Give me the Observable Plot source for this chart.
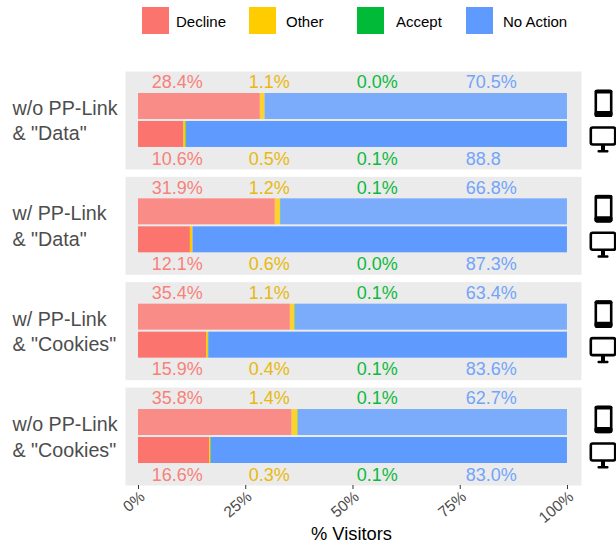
<!DOCTYPE html>
<html>
<head>
<meta charset="utf-8">
<script src="https://cdn.jsdelivr.net/npm/d3@7"></script>
<script src="https://cdn.jsdelivr.net/npm/@observablehq/plot@0.6"></script>
<style>
  html, body { margin: 0; padding: 0; background: #fff; font-family: "Liberation Sans", Arial, sans-serif; }
  #legend { position: relative; width: 616px; height: 50px; }
  .sw { position: absolute; top: 7px; width: 27px; height: 27px; }
  .lb { position: absolute; top: 13px; font-size: 15px; line-height: 18px; color: #000; white-space: nowrap; }
  svg { display: block; }
</style>
</head>
<body>
<div id="legend"></div>
<div id="chart"></div>
<script>
const configs = ['w/o PP-Link\n& "Data"', 'w/ PP-Link\n& "Data"', 'w/ PP-Link\n& "Cookies"', 'w/o PP-Link\n& "Cookies"'];
const devices = ["Mobile", "Desktop"];
const responses = ["Decline", "Other", "Accept", "No Action"];
const barColors = ["#fc746e", "#ffcc00", "#00ba38", "#5f9bff"];
const textColors = ["#f8817a", "#e8b90f", "#0cba3e", "#72a4fb"];
const labelColumns = [3.1, 25.7, 50.9, 76.3];
const legendSwatchLeft = [142, 249, 357, 466];
const legendTextLeft = [176, 286, 396, 503];
const xTicks = [0, 25, 50, 75, 100];
const xTitle = ["% Visitors"];

const mobileLabels = [
  ["28.4%", "1.1%", "0.0%", "70.5%"],
  ["31.9%", "1.2%", "0.1%", "66.8%"],
  ["35.4%", "1.1%", "0.1%", "63.4%"],
  ["35.8%", "1.4%", "0.1%", "62.7%"]
];
const desktopLabels = [
  ["10.6%", "0.5%", "0.1%", "88.8"],
  ["12.1%", "0.6%", "0.0%", "87.3%"],
  ["15.9%", "0.4%", "0.1%", "83.6%"],
  ["16.6%", "0.3%", "0.1%", "83.0%"]
];

const rows = [];
configs.forEach((config, i) => {
  [mobileLabels, desktopLabels].forEach((labels, d) => {
    responses.forEach((response, r) => {
      rows.push({
        config, device: devices[d], response,
        value: parseFloat(labels[i][r]),
        label: labels[i][r],
        column: labelColumns[r],
        textColor: textColors[r]
      });
    });
  });
});
const iconRows = configs.flatMap(config => devices.map(device => ({config, device})));

const phoneSvg = '<svg xmlns="http://www.w3.org/2000/svg" viewBox="0 0 28 28"><rect x="6.3" y="1" width="15.4" height="26" rx="2.5" fill="none" stroke="#000" stroke-width="2.6"/><rect x="5" y="21.5" width="18" height="6" rx="2" fill="#000"/><rect x="5" y="0" width="18" height="4" rx="2" fill="#000"/></svg>';
const monitorSvg = '<svg xmlns="http://www.w3.org/2000/svg" viewBox="0 0 28 28"><rect x="1.8" y="2" width="24.4" height="17" rx="2" fill="none" stroke="#000" stroke-width="2.6"/><rect x="12" y="19" width="4" height="6" fill="#000"/><rect x="8.5" y="24.5" width="11" height="2.5" rx="1" fill="#000"/></svg>';
const uri = s => "data:image/svg+xml;utf8," + encodeURIComponent(s);

const legend = document.getElementById("legend");
responses.forEach((r, i) => {
  const s = document.createElement("div");
  s.className = "sw"; s.style.left = legendSwatchLeft[i] + "px"; s.style.background = barColors[i];
  legend.appendChild(s);
  const t = document.createElement("div");
  t.className = "lb"; t.style.left = legendTextLeft[i] + "px"; t.textContent = r;
  legend.appendChild(t);
});

const plot = Plot.plot({
  width: 616,
  height: 496,
  marginTop: 21,
  marginBottom: 61,
  marginLeft: 125,
  marginRight: 35,
  style: {fontFamily: '"Liberation Sans", Arial, sans-serif', background: "#fff", overflow: "visible"},
  x: {domain: [-3.03, 103.27], ticks: xTicks, tickFormat: d => d + "%"},
  y: {domain: devices, axis: null, paddingInner: 0.0714, paddingOuter: 0.786, round: false},
  fy: {domain: configs, axis: null, paddingInner: 0.07, paddingOuter: 0, round: false},
  color: {domain: responses, range: barColors},
  marks: [
    Plot.frame({fill: "#ebebeb", stroke: "none"}),
    Plot.barX(rows, Plot.stackX({
      x: "value", y: "device", fy: "config", fill: "response",
      order: responses,
      fillOpacity: d => d.device === "Mobile" ? 0.8 : 1
    })),
    Plot.text(rows.filter(d => d.device === "Mobile"), {
      x: "column", y: "device", fy: "config", text: "label", fill: "textColor",
      textAnchor: "start", fontSize: 18, dy: -24
    }),
    Plot.text(rows.filter(d => d.device === "Desktop"), {
      x: "column", y: "device", fy: "config", text: "label", fill: "textColor",
      textAnchor: "start", fontSize: 18, dy: 24.5
    }),
    Plot.text(configs, {
      fy: d => d, text: d => d, frameAnchor: "left", textAnchor: "start",
      dx: -113, dy: -1, fontSize: 19.7, lineHeight: 1.3, fill: "#4d4d4d"
    }),
    Plot.image(iconRows.filter(d => d.device === "Mobile"), {
      x: () => 103.27, y: "device", fy: "config", src: () => uri(phoneSvg),
      width: 28, height: 28, dx: 22, dy: -3
    }),
    Plot.image(iconRows.filter(d => d.device === "Desktop"), {
      x: () => 103.27, y: "device", fy: "config", src: () => uri(monitorSvg),
      width: 28, height: 28, dx: 21.5, dy: 5
    }),
    Plot.axisX({
      ticks: xTicks, tickSize: 4, fill: "none", stroke: "#333", label: null
    }),
    Plot.axisX({
      ticks: xTicks, tickFormat: d => d + "%", tickRotate: -40,
      tickSize: 0, tickPadding: 9, fontSize: 15.5, color: "#4d4d4d", stroke: "none", fill: "#4d4d4d", label: null, dx: 4
    }),
    Plot.text(xTitle, {
      fy: () => configs[3], text: d => d, frameAnchor: "bottom", dx: -2, dy: 54,
      fontSize: 18.3, fill: "#000"
    })
  ]
});
document.getElementById("chart").appendChild(plot);
</script>
</body>
</html>
